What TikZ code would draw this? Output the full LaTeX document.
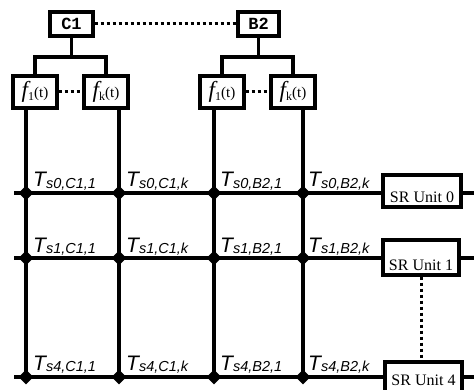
\documentclass[tikz,border=0pt]{standalone}
\usepackage{fontspec}
\setmainfont{Liberation Serif}
\setsansfont{Liberation Sans}
\setmonofont{Liberation Mono}
\usetikzlibrary{shapes.geometric}
\newcommand\fsig[1]{{\fontsize{23}{23}\selectfont\itshape f}{\fontsize{12}{12}\selectfont\raisebox{-3pt}{#1}}{\fontsize{15}{15}\selectfont(t)}}
\newcommand\tlab[3]{{\fontsize{21}{21}\selectfont T}{\fontsize{14.5}{14.5}\selectfont\raisebox{-1.5pt}{s#1,#2,#3}}}
\begin{document}
\begin{tikzpicture}[x=1pt,y=-1pt,
  wire/.style={line width=3.2pt},
  dotline/.style={line width=3pt, dash pattern=on 3pt off 3pt},
  box/.style={draw, line width=3.2pt, fill=white, inner sep=0pt},
  topbox/.style={box, minimum height=24pt, font=\ttfamily\bfseries\fontsize{17}{17}\selectfont},
  fbox/.style={box, minimum width=44pt, minimum height=32pt},
  srbox/.style={box, text depth=0pt, font=\fontsize{16}{16}\selectfont},
  dot/.style={diamond, fill=black, inner sep=0pt, minimum size=15pt},
  tl/.style={anchor=base west, inner sep=0pt, font=\sffamily\itshape},
]
\clip (0,0) rectangle (474,390);
\fill[white] (0,0) rectangle (474,390);

% top boxes
\node[topbox, minimum width=43pt] (C1) at (71.5,24) {C1};
\node[topbox, minimum width=41pt] (B2) at (258.5,24) {B2};
\draw[dotline] (C1.east) -- (B2.west);

% f boxes
\node[fbox] (fa1) at (35,92) {\fsig{1}};
\node[fbox] (fak) at (106,92) {\fsig{k}};
\node[fbox] (fb1) at (222,92) {\fsig{1}};
\node[fbox] (fbk) at (293,92) {\fsig{k}};
\draw[dotline] (fa1.east) -- (fak.west);
\draw[dotline] (fb1.east) -- (fbk.west);

% tree connectors
\coordinate (jc) at (71.5,57);
\coordinate (jb) at (258.5,57);
\draw[wire] (C1.south) -- (jc);
\draw[wire] (fa1.north) |- (jc) -| (fak.north);
\draw[wire] (B2.south) -- (jb);
\draw[wire] (fb1.north) |- (jb) -| (fbk.north);

% SR units
\node[srbox, minimum width=78pt, minimum height=32pt, text height=24pt] (SR0) at (422,191) {SR Unit 0};
\node[srbox, minimum width=76pt, minimum height=35pt, text height=26pt] (SR1) at (421,257.5) {SR Unit 1};
\node[srbox, minimum width=77pt, minimum height=36pt, text height=10pt] (SR4) at (423.5,380) {SR Unit 4};
\draw[dotline] (SR1.south) -- (SR1.south |- SR4.north);

% grid dots
\foreach \c/\x in {0/26,1/119,2/214,3/303}{
  \foreach \r/\y in {0/193,1/258,4/377}{
    \node[dot] (d\r\c) at (\x,\y) {};
  }
}

% horizontal lines
\coordinate (L0) at (14,193);
\coordinate (L1) at (14,258);
\coordinate (L4) at (14,377);
\coordinate (R0) at (474,193);
\coordinate (R1) at (474,258);
\coordinate (R4) at (474,377);
\draw[wire] (L0) -- (SR0.west |- L0);
\draw[wire] (SR0.east |- L0) -- (R0);
\draw[wire] (L1) -- (SR1.west |- L1);
\draw[wire] (SR1.east |- L1) -- (R1);
\draw[wire] (L4) -- (SR4.west |- L4);
\draw[wire] (SR4.east |- L4) -- (R4);

% vertical lines
\draw[wire] (d00 |- fa1.south) -- (d40.center);
\draw[wire] (d01 |- fak.south) -- (d41.center);
\draw[wire] (d02 |- fb1.south) -- (d42.center);
\draw[wire] (d03 |- fbk.south) -- (d43.center);

% labels
\node[tl] (t00) at (33,187) {\tlab{0}{C1}{1}};
\node[tl] (t01) at (126,187) {\tlab{0}{C1}{k}};
\node[tl] (t02) at (220,187) {\tlab{0}{B2}{1}};
\node[tl] (t03) at (308,187) {\tlab{0}{B2}{k}};
\node[tl] (t10) at (33,252) {\tlab{1}{C1}{1}};
\node[tl] (t11) at (126,252) {\tlab{1}{C1}{k}};
\node[tl] (t12) at (220,252) {\tlab{1}{B2}{1}};
\node[tl] (t13) at (308,252) {\tlab{1}{B2}{k}};
\node[tl] (t40) at (33,370) {\tlab{4}{C1}{1}};
\node[tl] (t41) at (126,370) {\tlab{4}{C1}{k}};
\node[tl] (t42) at (220,370) {\tlab{4}{B2}{1}};
\node[tl] (t43) at (308,370) {\tlab{4}{B2}{k}};
\end{tikzpicture}
\end{document}
